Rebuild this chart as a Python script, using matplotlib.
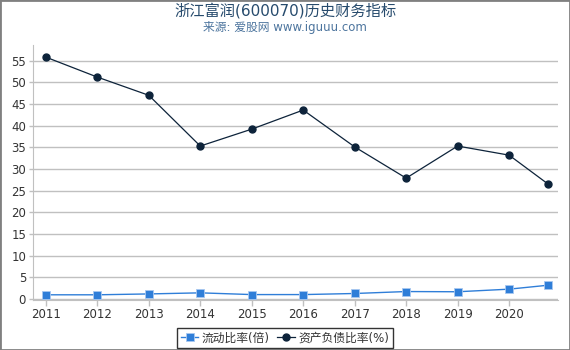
import matplotlib.pyplot as plt
from matplotlib.patches import Rectangle

plt.rcParams['font.family'] = ['DejaVu Sans', 'Noto Sans CJK SC']

years = [2011, 2012, 2013, 2014, 2015, 2016, 2017, 2018, 2019, 2020, 2020.75]
tick_years = [2011, 2012, 2013, 2014, 2015, 2016, 2017, 2018, 2019, 2020]
current_ratio = [1.0, 1.0, 1.2, 1.45, 1.05, 1.05, 1.3, 1.75, 1.7, 2.3, 3.2]
debt_ratio = [55.8, 51.2, 47.0, 35.3, 39.2, 43.6, 35.1, 27.9, 35.3, 33.2, 26.6]

fig = plt.figure(figsize=(5.7, 3.5), dpi=100)
ax = fig.add_axes([33 / 570, 1 - 300 / 350, (558 - 33) / 570, (300 - 45) / 350])

ax.plot(years, current_ratio, color='#2f7ed8', lw=1, marker='s', ms=5.5,
        markeredgecolor='#a8c8f0', markeredgewidth=0.6, label='流动比率(倍)', zorder=3)
ax.plot(years, debt_ratio, color='#0d233a', lw=0.9, marker='o', ms=5,
        label='资产负债比率(%)', zorder=3)

ax.set_xlim(2010.75, 2020.95)
ax.set_ylim(-0.2, 58.6)
ax.set_xticks(tick_years)
ax.set_xticklabels([str(y) for y in tick_years])
ax.set_yticks(range(0, 60, 5))
ax.grid(axis='y', color='#c0c0c0', lw=1)
ax.set_axisbelow(True)
for s in ['top', 'right']:
    ax.spines[s].set_visible(False)
ax.spines['left'].set_color('#c0c0c0')
ax.spines['bottom'].set_color('#c0c0c0')
ax.tick_params(axis='both', labelsize=8.5, colors='#333333', length=4, width=1)
ax.tick_params(axis='x', color='#c0c0c0', pad=2)
ax.tick_params(axis='y', color='#c0c0c0', pad=2, length=3)

fig.text(0.5, 1 - 11 / 350, '浙江富润(600070)历史财务指标', ha='center', va='center',
         fontsize=11, color='#274b6d')
fig.text(0.5, 1 - 28 / 350, '来源: 爱股网 www.iguuu.com', ha='center', va='center',
         fontsize=8.5, color='#4d759e')

leg = fig.legend(loc='center', bbox_to_anchor=(285 / 570, 1 - 338 / 350), ncol=2,
                 fontsize=8.5, frameon=True, fancybox=False, edgecolor='black',
                 handlelength=1.5, handletextpad=0.3, columnspacing=0.6,
                 borderpad=0.3)
leg.get_frame().set_linewidth(1)
for t in leg.get_texts():
    t.set_color('#333333')

fig.patches.append(Rectangle((0, 0), 1, 1, transform=fig.transFigure, fill=False,
                             edgecolor='#808080', lw=2))

fig.savefig('out.png', dpi=100)
